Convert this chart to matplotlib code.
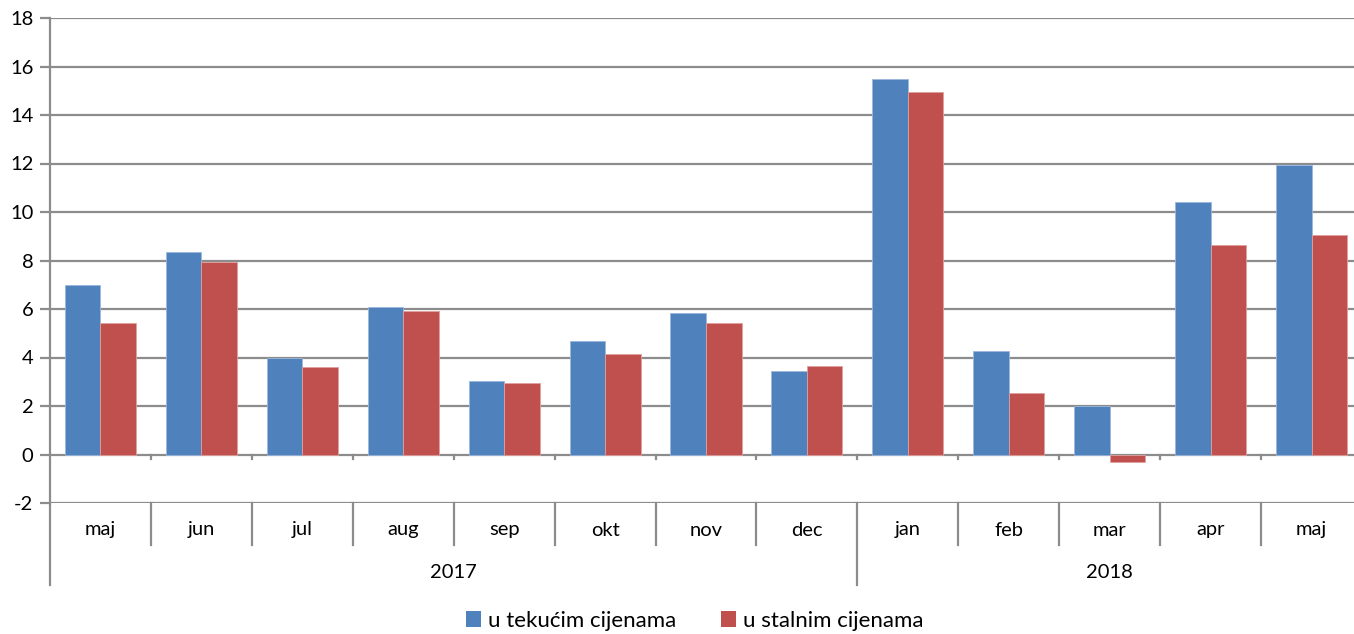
import numpy as np
import matplotlib
matplotlib.use("Agg")
import matplotlib.pyplot as plt
import matplotlib.transforms as mtransforms
from matplotlib.patches import Patch

plt.rcParams['font.family'] = ['Lato', 'DejaVu Sans']

# data
months = ["maj", "jun", "jul", "aug", "sep", "okt", "nov", "dec",
          "jan", "feb", "mar", "apr", "maj"]
years = ["2017", "2018"]
year_spans = [(0, 8), (8, 13)]  # month index ranges per year
tekuce = [7.0, 8.35, 3.98, 6.1, 3.05, 4.66, 5.82, 3.46, 15.5, 4.28, 2.02, 10.4, 11.92]
stalne = [5.44, 7.95, 3.62, 5.92, 2.95, 4.15, 5.42, 3.65, 14.93, 2.52, -0.3, 8.63, 9.05]
series_names = ["u tekućim cijenama", "u stalnim cijenama"]
yticks = list(range(-2, 19, 2))

BLUE = "#4F81BD"
RED = "#C0504D"
GRID = "#8c8c8c"
FS = 14.5

fig = plt.figure(figsize=(13.54, 6.34), dpi=100)
ax = fig.add_axes([50/1354, 131/634, 1312/1354, 485/634])

x = np.arange(len(months))
w = 0.352
ax.bar(x - w/2, tekuce, w, color=BLUE, edgecolor="#9bb7dd", linewidth=0.6, zorder=3)
ax.bar(x + w/2, stalne, w, color=RED, edgecolor="#e0a09e", linewidth=0.6, zorder=3)

ax.set_xlim(-0.5, len(months) - 0.5)
ax.set_ylim(-2, 18)
ax.set_yticks(yticks)
ax.set_yticklabels([str(v) for v in yticks], fontsize=FS)
ax.set_xticks([])
for v in yticks:
    ax.axhline(v, color=GRID, linewidth=1.6, zorder=1)

for s in ["top", "right", "bottom"]:
    ax.spines[s].set_visible(False)
ax.spines["left"].set_color(GRID)
ax.spines["left"].set_linewidth(1.6)
ax.tick_params(axis="y", length=7, width=1.6, color=GRID, pad=5)

trans = mtransforms.blended_transform_factory(ax.transData, ax.transAxes)
h = 485.0
bounds = np.arange(0.5, len(months) - 1, 1.0)

# small ticks under the zero line
for b in bounds:
    ax.plot([b, b], [0, -0.2], color=GRID, lw=1.6, zorder=2, clip_on=False)

# month / year separators below the axis
year_bounds = [s[0] - 0.5 for s in year_spans]
for b in bounds:
    bottom = -82/h if b in year_bounds else -42/h
    ax.plot([b, b], [0, bottom], color=GRID, lw=1.6, transform=trans, clip_on=False)
ax.plot([-0.5, -0.5], [0, -82/h], color=GRID, lw=1.6, transform=trans, clip_on=False)

for i, m in enumerate(months):
    ax.text(i, -27/h, m, ha="center", va="center", fontsize=FS, transform=trans)
for yr, (a, b) in zip(years, year_spans):
    ax.text((a + b - 1) / 2, -70/h, yr, ha="center", va="center", fontsize=FS,
            transform=trans)

handles = [Patch(facecolor=BLUE), Patch(facecolor=RED)]
fig.legend(handles, series_names, loc="center", bbox_to_anchor=(0.513, 13/634),
           ncol=2, frameon=False, fontsize=16, handlelength=0.7, handleheight=0.7,
           handletextpad=0.3, columnspacing=2.0)

fig.savefig("out.png", dpi=100)
